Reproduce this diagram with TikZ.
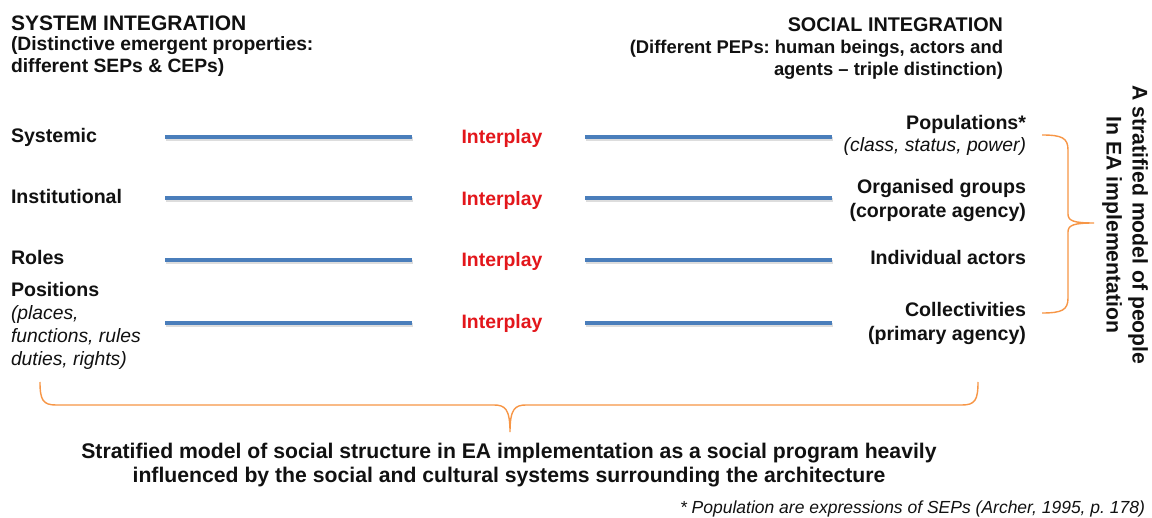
\documentclass[tikz,border=0pt]{standalone}
\usepackage{fontspec}
\setmainfont{Liberation Sans}
\frenchspacing
\definecolor{txt}{HTML}{111111}
\definecolor{lineblue}{HTML}{4A7EBB}
\definecolor{braceorange}{HTML}{F79646}
\definecolor{playred}{HTML}{E3161B}
\begin{document}
\begin{tikzpicture}[x=1pt,y=-1pt,
  every node/.style={inner sep=0pt, outer sep=0pt, text=txt},
  titleL/.style={font=\fontsize{21}{25}\selectfont\bfseries},
  titleR/.style={font=\fontsize{19.8}{24}\selectfont\bfseries},
  subL/.style={font=\fontsize{19.3}{23}\selectfont\bfseries},
  subR/.style={font=\fontsize{18.4}{22}\selectfont\bfseries},
  lbl/.style={font=\fontsize{19.6}{23}\selectfont\bfseries},
  itl/.style={font=\fontsize{19.3}{23}\selectfont\itshape},
  play/.style={font=\fontsize{19.4}{23}\selectfont\bfseries, text=playred},
  bottomtxt/.style={font=\fontsize{21.2}{24}\selectfont\bfseries, align=center},
  foot/.style={font=\fontsize{17.5}{20}\selectfont\itshape},
  vert/.style={font=\fontsize{21.2}{26}\selectfont\bfseries, align=center, rotate=-90},
  blueline/.style={draw=lineblue, line width=3.2pt},
  shadowline/.style={draw=black!22, line width=3.2pt, opacity=0.6},
  bracestyle/.style={draw=braceorange, line width=1.4pt}
]
\useasboundingbox[fill=white] (0,0) rectangle (1152,518);

% headers
\node[titleL, anchor=base west] (sysT) at (11,31) {SYSTEM INTEGRATION};
\node[subL, anchor=base west] (sysS1) at (11,51) {(Distinctive emergent properties:};
\node[subL, anchor=base west] (sysS2) at (11,73) {different SEPs \& CEPs)};
\node[titleR, anchor=base east] (socT) at (1003,32) {SOCIAL INTEGRATION};
\node[subR, anchor=base east] (socS1) at (1003,54) {(Different PEPs: human beings, actors and};
\node[subR, anchor=base east] (socS2) at (1003,76) {agents -- triple distinction)};

% left labels
\node[lbl, anchor=base west] (sys) at (11,143) {Systemic};
\node[lbl, anchor=base west] (inst) at (11,204) {Institutional};
\node[lbl, anchor=base west] (roles) at (11,265) {Roles};
\node[lbl, anchor=base west] (pos) at (11,297) {Positions};
\node[itl, anchor=base west] (pos1) at (11,320) {(places,};
\node[itl, anchor=base west] (pos2) at (11,343) {functions, rules};
\node[itl, anchor=base west] (pos3) at (11,366) {duties, rights)};

% interplay
\node[play, anchor=base] (ip1) at (502,144) {Interplay};
\node[play, anchor=base] (ip2) at (502,206) {Interplay};
\node[play, anchor=base] (ip3) at (502,267) {Interplay};
\node[play, anchor=base] (ip4) at (502,329) {Interplay};

% right labels
\node[lbl, anchor=base east] (popu) at (1026,130) {Populations*};
\node[itl, anchor=base east] (popu2) at (1026,152) {(class, status, power)};
\node[lbl, anchor=base east] (org) at (1026,194) {Organised groups};
\node[lbl, anchor=base east] (org2) at (1026,218) {(corporate agency)};
\node[lbl, anchor=base east] (ind) at (1026,265) {Individual actors};
\node[lbl, anchor=base east] (coll) at (1026,317) {Collectivities};
\node[lbl, anchor=base east] (coll2) at (1026,341) {(primary agency)};

% line end points
\foreach \i/\y in {1/137,2/198,3/260,4/323}{
  \coordinate (la\i) at (165,\y);
  \coordinate (lb\i) at (412,\y);
  \coordinate (ra\i) at (585,\y);
  \coordinate (rb\i) at (832,\y);
}
\foreach \i in {1,2,3,4}{
  \draw[shadowline] ([shift={(1pt,-2pt)}]la\i) -- ([shift={(1pt,-2pt)}]lb\i);
  \draw[shadowline] ([shift={(1pt,-2pt)}]ra\i) -- ([shift={(1pt,-2pt)}]rb\i);
  \draw[blueline] (la\i) -- (lb\i);
  \draw[blueline] (ra\i) -- (rb\i);
}

% right brace
\coordinate (rbTop) at (1042,135);
\coordinate (rbTip) at (1094,223);
\coordinate (rbBot) at (1042,313);
\draw[bracestyle] (rbTop) .. controls (1062,135) and (1068,138) .. (1068,150)
  -- (1068,214) .. controls (1068,221) and (1074,223) .. (rbTip)
  .. controls (1074,223) and (1068,225) .. (1068,232)
  -- (1068,298) .. controls (1068,310) and (1062,313) .. (rbBot);

% vertical label
\node[vert] (strat) at (1125,225) {A stratified model of people\\In EA implementation};

% bottom brace
\coordinate (bbL) at (40,382);
\coordinate (bbTip) at (510,432);
\coordinate (bbR) at (978,382);
\draw[bracestyle] (bbL) .. controls (40,400) and (43,405) .. (56,405)
  -- (494,405) .. controls (505,405) and (510,409) .. (bbTip)
  .. controls (510,409) and (515,405) .. (526,405)
  -- (962,405) .. controls (975,405) and (978,400) .. (bbR);

% bottom text
\node[bottomtxt, anchor=base] (bt1) at (509,459) {Stratified model of social structure in EA implementation as a social program heavily};
\node[bottomtxt, anchor=base] (bt2) at (509,483) {influenced by the social and cultural systems surrounding the architecture};

% footnote
\node[foot, anchor=base east] (fn) at (1145,514) {* Population are expressions of SEPs (Archer, 1995, p. 178)};
\end{tikzpicture}
\end{document}
